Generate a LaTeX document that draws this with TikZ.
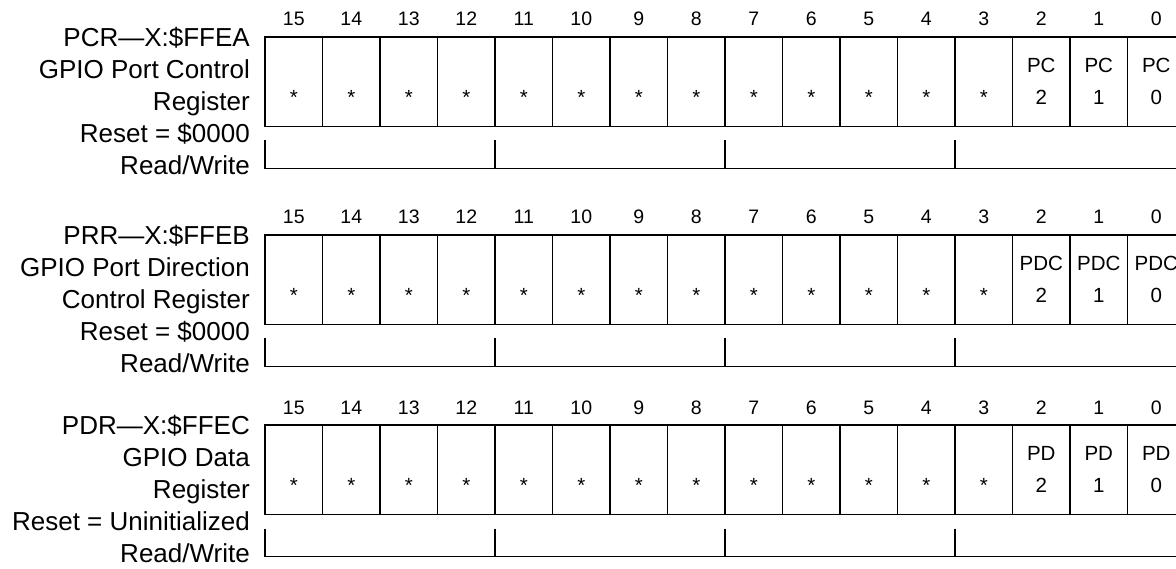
\documentclass[tikz,border=0pt]{standalone}
\usepackage{fontspec}
\setmainfont{Liberation Sans}
\usetikzlibrary{calc}

\begin{document}
\begin{tikzpicture}[x=1pt, y=-1pt,
    cell/.style={
        draw=black, line width=1.4pt, minimum width=57.5pt, minimum height=89.5pt,
        inner sep=0pt, outer sep=0pt, align=center,
        font=\fontsize{20.5}{32}\selectfont
    },
    bitnum/.style={font=\fontsize{19.5}{23}\selectfont, inner sep=0pt},
    reglabel/.style={align=right, inner sep=0pt, font=\fontsize{26}{32}\selectfont},
    bracket/.style={line width=1.5pt},
]

\newcommand{\regrow}[4]{%
    \foreach \bitno in {15,...,0} {
        \pgfmathsetmacro{\cx}{293.75+(15-\bitno)*57.5}
        \ifnum\bitno>2
            \node[cell] (#1c\bitno) at (\cx,#2+44.75) {\phantom{P}\\*};
        \else
            \node[cell] (#1c\bitno) at (\cx,#2+44.75) {#3\\\bitno};
        \fi
        \node[bitnum, anchor=base] (#1n\bitno) at ([yshift=11pt]#1c\bitno.north) {\bitno};
    }
    \node[reglabel, anchor=north east] (#1lab) at (250,#2-9.5) {#4};
    \draw[bracket] ([yshift=-14pt]#1c15.south west) |- ([yshift=-42pt]#1c0.south east);
    \foreach \t in {11,7,3}
        \draw[bracket] ([yshift=-14pt]#1c\t.south west) -- ([yshift=-42pt]#1c\t.south west);
}

    \path[use as bounding box] (0,0) rectangle (1176,569);
    \clip (0,0) rectangle (1176,569);

    % --- port control register ---
    \regrow{pcr}{37}{PC}{PCR—X:\$FFEA\\GPIO Port Control\\Register\\Reset = \$0000\\Read/Write}

    % --- port direction register ---
    \regrow{prr}{235}{PDC}{PRR—X:\$FFEB\\GPIO Port Direction\\Control Register\\Reset = \$0000\\Read/Write}

    % --- data register ---
    \regrow{pdr}{425}{PD}{PDR—X:\$FFEC\\GPIO Data\\Register\\Reset = Uninitialized\\Read/Write}

\end{tikzpicture}
\end{document}
